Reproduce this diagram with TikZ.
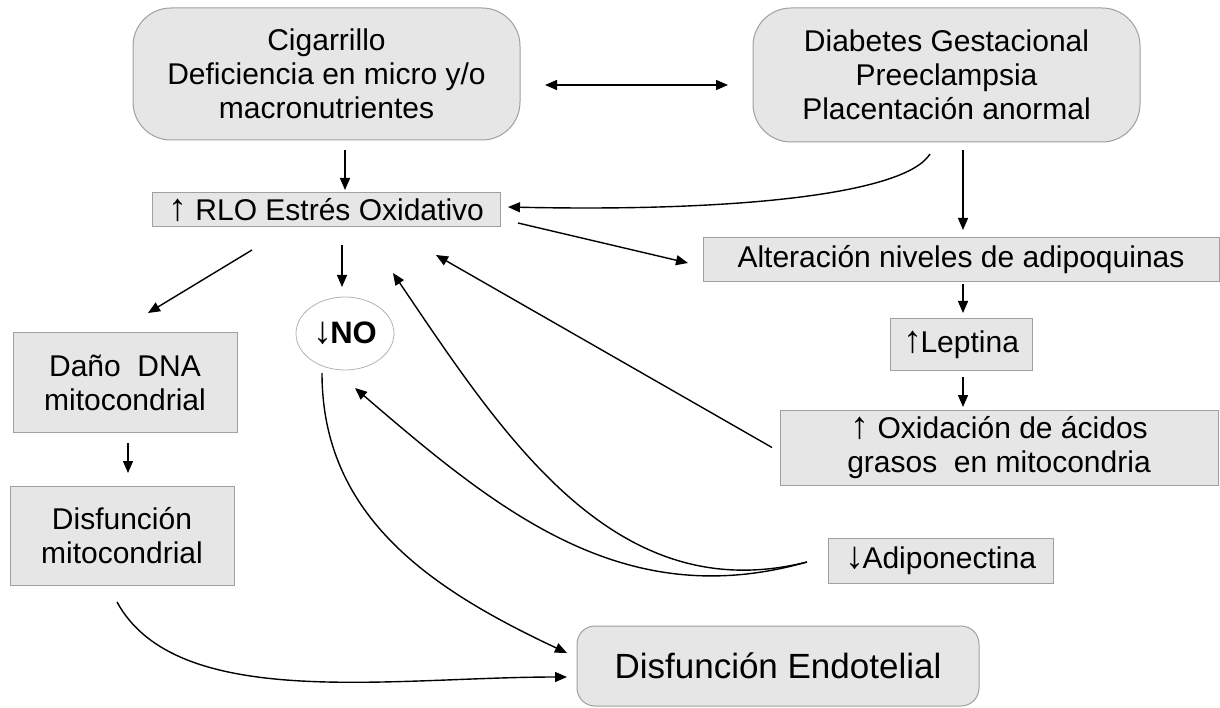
\documentclass[tikz,border=0pt]{standalone}
\usepackage{fontspec}
\setmainfont{Liberation Sans}
\usetikzlibrary{arrows.meta,shapes.geometric,calc}
\definecolor{boxfill}{HTML}{E6E6E6}
\definecolor{boxline}{HTML}{A0A0A0}
\newcommand\arrup{{\fontsize{38}{34}\selectfont ↑}}
\newcommand\arrdn{{\fontsize{38}{34}\selectfont ↓}}
\begin{document}
\begin{tikzpicture}[x=1pt,y=-1pt,
  txt/.style={font=\fontsize{30}{34}\selectfont, align=center, inner sep=0pt, outer sep=0pt},
  sbox/.style={txt, draw=boxline, fill=boxfill, line width=1pt, rectangle},
  rbox/.style={sbox, rounded corners=38pt},
  arr/.style={line width=1.4pt, -{Triangle[length=12pt,width=10pt]}},
  darr/.style={line width=1.4pt, {Triangle[length=12pt,width=10pt]}-{Triangle[length=12pt,width=10pt]}},
]
\useasboundingbox (0,0) rectangle (1220,708);
\fill[white] (0,0) rectangle (1220,708);

% nodes
\node[rbox, minimum width=387pt, minimum height=132pt] (A) at (326.5,74)
  {Cigarrillo\\Deficiencia en micro y/o\\macronutrientes};
\node[rbox, minimum width=387pt, minimum height=134pt] (B) at (946.5,75)
  {Diabetes Gestacional\\Preeclampsia\\Placentación anormal};
\node[sbox, minimum width=348pt, minimum height=34pt] (RLO) at (326,210)
  {\arrup{} RLO Estrés Oxidativo};
\node[sbox, minimum width=516pt, minimum height=44pt] (Alt) at (961,260)
  {Alteración niveles de adipoquinas};
\node[sbox, minimum width=142pt, minimum height=51pt] (Lep) at (961,344.5)
  {\arrup\kern-1.5pt Leptina};
\node[sbox, minimum width=438pt, minimum height=75pt] (Ox) at (999,447.5)
  {\arrup{} Oxidación de ácidos\\grasos\ \ en mitocondria};
\node[sbox, minimum width=225pt, minimum height=45pt] (Adi) at (940.5,560.5)
  {\arrdn\kern-1.5pt Adiponectina};
\node[txt, ellipse, draw=boxline!80, fill=white, line width=0.8pt,
  minimum width=98pt, minimum height=73pt, font=\fontsize{31}{34}\selectfont\bfseries] (NO) at (345,333.5)
  {\arrdn\kern-2pt NO};
\node[sbox, minimum width=224pt, minimum height=99pt] (Dano) at (125,382.5)
  {Daño\ \ DNA\\mitocondrial};
\node[sbox, minimum width=224pt, minimum height=99pt] (DisM) at (122,535.5)
  {Disfunción\\mitocondrial};
\node[sbox, rounded corners=18pt, minimum width=402pt, minimum height=80pt,
  font=\fontsize{35}{40}\selectfont] (Endo) at (778,666)
  {Disfunción Endotelial};

% connectors
\draw[darr] ($(A.east)+(25,11)$) -- ($(B.west)+(-25,10)$);
\draw[arr] ($(A.south)+(18.5,10)$) -- ($(RLO.north)+(19,-3)$);
\draw[arr] ($(B.south)+(-16.5,12)$) .. controls +(-25,40) and +(230,5) .. ($(RLO.east)+(8,-3)$);
\draw[arr] ($(B.south)+(16.5,8)$) -- ($(Alt.north)+(2,-8)$);
\draw[arr] ($(RLO.east)+(18,13)$) -- ($(Alt.west)+(-15,3)$);
\draw[arr] ($(Alt.south)+(2,2)$) -- ($(Lep.north)+(2,-6)$);
\draw[arr] ($(Lep.south)+(2,7)$) -- ($(Ox.north)+(-36,-3)$);
\draw[arr] ($(Ox.west)+(-8,0)$) -- ($(RLO.south)+(110,28)$);
\draw[arr] ($(RLO.south)+(16,18)$) -- ($(NO.north)+(-3,-10)$);
\draw[arr] ($(RLO.south)+(-74,23)$) -- ($(Dano.north)+(23,-20)$);
\draw[arr] ($(Dano.south)+(3,11)$) -- ($(DisM.north)+(6,-13)$);
\draw[arr] ($(Adi.west)+(-21,1.5)$) .. controls +(-192,48) and +(111,164) .. ($(RLO.south)+(67,46)$);
\draw[arr] ($(Adi.west)+(-21,1.5)$) .. controls +(-183,52) and +(144,124) .. ($(NO.south)+(10,18)$);
\draw[arr] ($(NO.south)+(-23,3)$) .. controls +(0,146) and +(-132,-62) .. ($(Endo.west)+(-10,-13)$);
\draw[arr] ($(DisM.south)+(-5,17)$) .. controls +(60,110) and +(-176,0) .. ($(Endo.west)+(-10,11)$);
\end{tikzpicture}
\end{document}
